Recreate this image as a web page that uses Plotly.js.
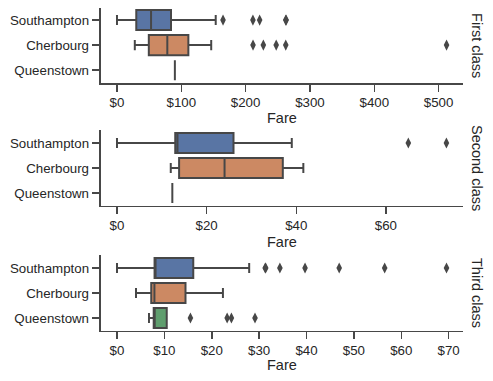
<!DOCTYPE html>
<html>
<head>
<meta charset="utf-8">
<script src="https://cdn.plot.ly/plotly-3.0.1.min.js"></script>
<style>html,body{margin:0;padding:0;background:#fff;}#chart{width:493px;height:381px;}</style>
</head>
<body>
<div id="chart"></div>
<script>
// Categories
const towns = ['Southampton', 'Cherbourg', 'Queenstown'];
const classNames = ['First class', 'Second class', 'Third class'];
const xTitle = 'Fare';

// First class box statistics (per town)
const firstLow = [0, 27.72, 90];
const firstQ1 = [30.0, 49.5, 90];
const firstMedian = [53.0, 78.27, 90];
const firstQ3 = [84.0, 111.0, 90];
const firstHigh = [153.5, 146.5, 90];
const firstOutTown = ['Southampton', 'Southampton', 'Southampton', 'Southampton', 'Southampton',
                      'Cherbourg', 'Cherbourg', 'Cherbourg', 'Cherbourg', 'Cherbourg'];
const firstOutFare = [164.87, 211.34, 221.78, 262.38, 263.0,
                      211.5, 227.53, 247.52, 262.38, 512.33];

// Second class box statistics
const secondLow = [0, 12.0, 12.35];
const secondQ1 = [13.0, 13.86, 12.35];
const secondMedian = [13.5, 24.0, 12.35];
const secondQ3 = [26.0, 37.0, 12.35];
const secondHigh = [39.0, 41.58, 12.35];
const secondOutTown = ['Southampton', 'Southampton'];
const secondOutFare = [65.0, 73.5];

// Third class box statistics
const thirdLow = [0, 4.01, 6.75];
const thirdQ1 = [7.93, 7.23, 7.75];
const thirdMedian = [8.05, 7.9, 7.75];
const thirdQ3 = [16.1, 14.46, 10.5];
const thirdHigh = [27.9, 22.36, 10.5];
const thirdOutTown = ['Southampton', 'Southampton', 'Southampton', 'Southampton', 'Southampton', 'Southampton', 'Southampton',
                      'Queenstown', 'Queenstown', 'Queenstown', 'Queenstown'];
const thirdOutFare = [31.28, 31.39, 34.38, 39.69, 46.9, 56.5, 69.55,
                      15.5, 23.25, 24.15, 29.13];

// X tick values per panel
const firstTicks = [0, 100, 200, 300, 400, 500];
const secondTicks = [0, 20, 40, 60];
const thirdTicks = [0, 10, 20, 30, 40, 50, 60, 70];

const townColors = ['#5975a4', '#cc8963', '#5f9e6e'];
const lineColor = '#474747';
const textColor = '#262626';
const FONT = 'Liberation Sans, Arial, sans-serif';

const panels = [
  {low: firstLow, q1: firstQ1, med: firstMedian, q3: firstQ3, high: firstHigh, outT: firstOutTown, outF: firstOutFare, ticks: firstTicks},
  {low: secondLow, q1: secondQ1, med: secondMedian, q3: secondQ3, high: secondHigh, outT: secondOutTown, outF: secondOutFare, ticks: secondTicks},
  {low: thirdLow, q1: thirdQ1, med: thirdMedian, q3: thirdQ3, high: thirdHigh, outT: thirdOutTown, outF: thirdOutFare, ticks: thirdTicks}
];

const traces = [];
panels.forEach((p, pi) => {
  const xa = pi === 0 ? 'x' : 'x' + (pi + 1);
  const ya = pi === 0 ? 'y' : 'y' + (pi + 1);
  towns.forEach((t, ti) => {
    traces.push({
      type: 'box',
      orientation: 'h',
      y: [t],
      lowerfence: [p.low[ti]],
      q1: [p.q1[ti]],
      median: [p.med[ti]],
      q3: [p.q3[ti]],
      upperfence: [p.high[ti]],
      width: 0.8,
      whiskerwidth: 0.5,
      fillcolor: townColors[ti],
      line: {color: lineColor, width: 2},
      boxpoints: false,
      xaxis: xa, yaxis: ya,
      showlegend: false,
      hoverinfo: 'skip'
    });
  });
  traces.push({
    type: 'scatter',
    mode: 'markers',
    x: p.outF,
    y: p.outT,
    marker: {symbol: 'diamond-tall', size: 8, color: lineColor},
    xaxis: xa, yaxis: ya,
    showlegend: false,
    hoverinfo: 'skip'
  });
});

const xRanges = [[-25.6, 537.9], [-3.675, 77.2], [-3.48, 73.03]];
const yDomains = [[0.7829, 0.9803], [0.4606, 0.6575], [0.1325, 0.3294]];
const xDomain = [100.5 / 493, 463 / 493];
const xTitleY = [1 - 117.5 / 381, 1 - 241.5 / 381, 1 - 365 / 381];

const layout = {
  width: 493, height: 381,
  margin: {l: 0, r: 0, t: 0, b: 0, pad: 0},
  paper_bgcolor: '#ffffff',
  plot_bgcolor: '#ffffff',
  font: {family: FONT, size: 13, color: textColor},
  showlegend: false,
  annotations: []
};

panels.forEach((p, pi) => {
  const xk = pi === 0 ? 'xaxis' : 'xaxis' + (pi + 1);
  const yk = pi === 0 ? 'yaxis' : 'yaxis' + (pi + 1);
  const yid = pi === 0 ? 'y' : 'y' + (pi + 1);
  const xid = pi === 0 ? 'x' : 'x' + (pi + 1);
  layout[xk] = {
    domain: xDomain,
    anchor: yid,
    range: xRanges[pi],
    tickvals: p.ticks,
    ticktext: p.ticks.map(v => '$' + v),
    showgrid: false, zeroline: false,
    showline: true, linecolor: lineColor, linewidth: 1.8,
    ticks: 'outside', ticklen: 7, tickwidth: 1.5, tickcolor: lineColor,
    tickfont: {family: FONT, size: 13.3, color: textColor},
    fixedrange: true
  };
  layout[yk] = {
    domain: yDomains[pi],
    anchor: xid,
    type: 'category',
    categoryorder: 'array',
    categoryarray: towns,
    range: [2.5, -0.5],
    showgrid: false, zeroline: false,
    showline: true, linecolor: lineColor, linewidth: 1.8,
    ticks: 'outside', ticklen: 7, tickwidth: 1.5, tickcolor: lineColor,
    tickfont: {family: FONT, size: 13.3, color: textColor},
    fixedrange: true
  };
  layout.annotations.push({
    text: xTitle,
    xref: 'paper', yref: 'paper',
    x: (xDomain[0] + xDomain[1]) / 2,
    y: xTitleY[pi],
    xanchor: 'center', yanchor: 'middle',
    showarrow: false,
    font: {family: FONT, size: 14.5, color: textColor}
  });
  layout.annotations.push({
    text: classNames[pi],
    xref: 'paper', yref: 'paper',
    x: 477 / 493,
    y: (yDomains[pi][0] + yDomains[pi][1]) / 2,
    xanchor: 'center', yanchor: 'middle',
    textangle: 90,
    showarrow: false,
    font: {family: FONT, size: 14.5, color: textColor}
  });
});

Plotly.newPlot('chart', traces, layout, {staticPlot: true, displayModeBar: false});
</script>
</body>
</html>
